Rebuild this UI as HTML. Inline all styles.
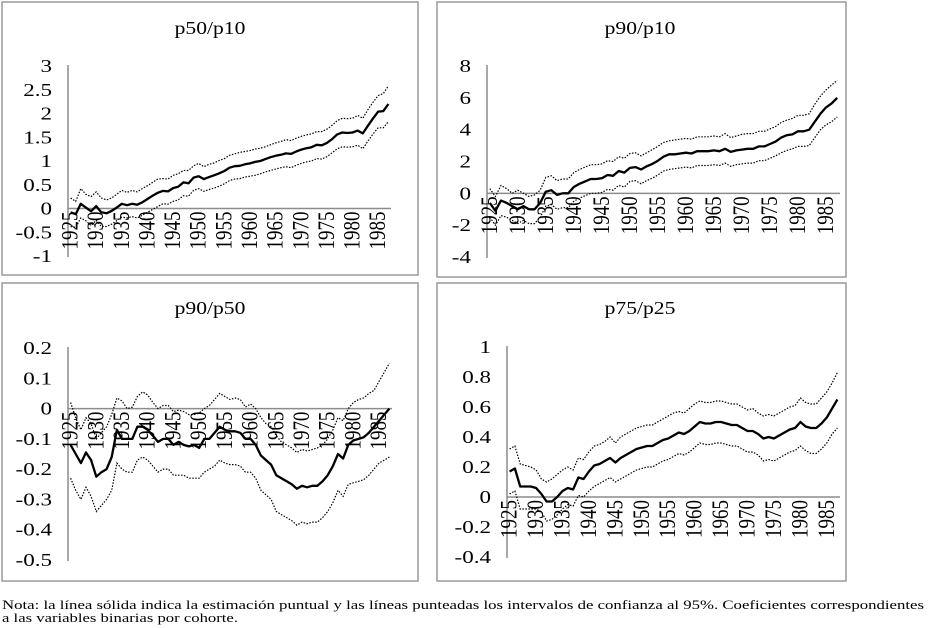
<!DOCTYPE html>
<html><head><meta charset="utf-8"><style>
body{margin:0;background:#fff;width:930px;height:628px;overflow:hidden;font-family:"Liberation Serif",serif}
svg{position:absolute;left:0;top:0}
</style></head><body>
<svg id="chart" width="930" height="628" viewBox="0 0 930 628" xmlns="http://www.w3.org/2000/svg" font-family="Liberation Serif, serif"></svg>
<script>
const years = [];
for (let y = 1925; y <= 1987; y++) years.push(y);
const tickYears = [1925,1930,1935,1940,1945,1950,1955,1960,1965,1970,1975,1980,1985];

const p5010Point = [-0.08,-0.12,0.1,0.02,-0.06,0.05,-0.08,-0.1,-0.05,0.02,0.1,0.07,0.1,0.08,0.13,0.2,0.27,0.33,0.37,0.36,0.43,0.46,0.55,0.53,0.65,0.68,0.62,0.66,0.7,0.74,0.79,0.86,0.89,0.9,0.93,0.95,0.98,1.0,1.04,1.08,1.11,1.13,1.16,1.15,1.2,1.24,1.27,1.29,1.34,1.33,1.38,1.46,1.56,1.6,1.59,1.6,1.64,1.58,1.74,1.9,2.04,2.05,2.2];
const p5010Upper = [0.22,0.15,0.42,0.3,0.25,0.35,0.22,0.18,0.22,0.3,0.38,0.34,0.38,0.35,0.42,0.48,0.55,0.62,0.63,0.62,0.7,0.73,0.8,0.8,0.9,0.95,0.88,0.93,0.96,1.01,1.05,1.12,1.15,1.18,1.2,1.22,1.25,1.27,1.3,1.34,1.38,1.41,1.45,1.43,1.48,1.52,1.55,1.57,1.62,1.62,1.67,1.75,1.85,1.9,1.89,1.9,1.96,1.9,2.08,2.24,2.38,2.42,2.58];
const p5010Lower = [-0.38,-0.4,-0.2,-0.26,-0.36,-0.25,-0.38,-0.38,-0.33,-0.26,-0.18,-0.2,-0.17,-0.2,-0.14,-0.08,-0.02,0.04,0.1,0.09,0.15,0.18,0.27,0.26,0.38,0.42,0.36,0.4,0.43,0.47,0.52,0.59,0.62,0.63,0.66,0.68,0.7,0.73,0.77,0.8,0.83,0.86,0.88,0.86,0.91,0.95,0.98,1.0,1.05,1.04,1.09,1.17,1.26,1.3,1.29,1.3,1.33,1.26,1.42,1.57,1.7,1.7,1.83];

const p9010Point = [-0.6,-1.1,-0.45,-0.6,-0.8,-1.0,-0.8,-1.0,-1.0,-0.6,0.1,0.2,-0.1,0.0,0.0,0.4,0.6,0.75,0.9,0.9,0.95,1.15,1.1,1.4,1.3,1.6,1.65,1.5,1.7,1.85,2.05,2.3,2.45,2.45,2.5,2.55,2.5,2.65,2.65,2.65,2.7,2.65,2.8,2.6,2.7,2.75,2.8,2.8,2.95,2.95,3.1,3.25,3.5,3.65,3.7,3.9,3.9,4.0,4.5,5.0,5.4,5.65,6.0];
const p9010Upper = [0.3,-0.2,0.5,0.3,0.0,0.2,0.0,-0.2,-0.1,0.2,1.0,1.1,0.8,0.9,0.9,1.3,1.5,1.65,1.8,1.8,1.85,2.05,2.0,2.3,2.2,2.5,2.55,2.35,2.55,2.75,2.95,3.2,3.3,3.35,3.4,3.45,3.4,3.55,3.55,3.55,3.6,3.55,3.75,3.5,3.6,3.7,3.75,3.75,3.9,3.9,4.05,4.2,4.45,4.6,4.7,4.9,4.9,5.0,5.6,6.1,6.5,6.8,7.1];
const p9010Lower = [-1.5,-2.0,-1.4,-1.5,-1.7,-1.9,-1.7,-1.9,-1.9,-1.5,-0.8,-0.7,-1.0,-0.9,-0.9,-0.5,-0.3,-0.15,0.0,0.0,0.05,0.25,0.2,0.5,0.4,0.75,0.8,0.6,0.8,0.95,1.15,1.4,1.5,1.55,1.6,1.65,1.6,1.75,1.75,1.75,1.8,1.75,1.9,1.7,1.8,1.85,1.9,1.9,2.05,2.05,2.2,2.35,2.55,2.7,2.8,2.95,2.95,3.0,3.5,4.0,4.3,4.5,4.8];

const p9050Point = [-0.12,-0.15,-0.18,-0.145,-0.17,-0.225,-0.21,-0.2,-0.16,-0.07,-0.1,-0.1,-0.1,-0.06,-0.06,-0.07,-0.09,-0.11,-0.1,-0.1,-0.12,-0.11,-0.12,-0.125,-0.12,-0.13,-0.1,-0.1,-0.08,-0.06,-0.07,-0.075,-0.075,-0.08,-0.1,-0.1,-0.12,-0.155,-0.17,-0.185,-0.22,-0.23,-0.24,-0.25,-0.265,-0.255,-0.26,-0.255,-0.255,-0.24,-0.22,-0.19,-0.15,-0.165,-0.12,-0.105,-0.1,-0.095,-0.08,-0.06,-0.04,-0.02,0.0];
const p9050Upper = [0.02,-0.03,-0.07,-0.03,-0.05,-0.1,-0.08,-0.06,-0.02,0.035,0.025,0.0,0.005,0.04,0.055,0.045,0.02,0.0,0.01,0.01,-0.01,-0.005,-0.01,-0.02,-0.02,-0.015,0.0,0.01,0.03,0.05,0.04,0.03,0.035,0.03,0.005,0.015,0.0,-0.03,-0.05,-0.06,-0.09,-0.11,-0.12,-0.13,-0.145,-0.135,-0.14,-0.135,-0.13,-0.12,-0.1,-0.07,-0.03,-0.04,0.0,0.02,0.03,0.035,0.05,0.06,0.09,0.12,0.15];
const p9050Lower = [-0.23,-0.27,-0.3,-0.26,-0.29,-0.34,-0.32,-0.3,-0.27,-0.18,-0.2,-0.21,-0.21,-0.17,-0.16,-0.17,-0.19,-0.21,-0.2,-0.2,-0.22,-0.22,-0.22,-0.23,-0.23,-0.23,-0.21,-0.2,-0.19,-0.17,-0.18,-0.185,-0.185,-0.19,-0.21,-0.21,-0.23,-0.27,-0.285,-0.3,-0.34,-0.35,-0.36,-0.37,-0.385,-0.375,-0.38,-0.375,-0.375,-0.36,-0.34,-0.31,-0.27,-0.29,-0.25,-0.245,-0.24,-0.235,-0.22,-0.2,-0.18,-0.17,-0.16];

const p7525Point = [0.17,0.19,0.07,0.07,0.07,0.06,0.02,-0.03,-0.03,0.0,0.04,0.06,0.05,0.13,0.12,0.17,0.21,0.22,0.24,0.26,0.23,0.26,0.28,0.3,0.32,0.33,0.34,0.34,0.36,0.38,0.39,0.41,0.43,0.42,0.44,0.47,0.5,0.49,0.49,0.5,0.5,0.49,0.48,0.48,0.46,0.44,0.44,0.42,0.39,0.4,0.39,0.41,0.43,0.45,0.46,0.5,0.47,0.46,0.46,0.49,0.53,0.59,0.65];
const p7525Upper = [0.32,0.34,0.22,0.21,0.2,0.18,0.12,0.1,0.12,0.15,0.18,0.2,0.18,0.26,0.25,0.3,0.34,0.35,0.37,0.4,0.36,0.4,0.42,0.44,0.46,0.47,0.48,0.48,0.5,0.52,0.54,0.56,0.57,0.56,0.59,0.62,0.64,0.63,0.63,0.64,0.64,0.63,0.62,0.62,0.6,0.58,0.59,0.56,0.54,0.55,0.54,0.56,0.58,0.6,0.61,0.66,0.63,0.62,0.62,0.66,0.7,0.76,0.83];
const p7525Lower = [0.02,0.04,-0.08,-0.08,-0.08,-0.08,-0.1,-0.16,-0.15,-0.12,-0.08,-0.05,-0.06,0.01,0.0,0.04,0.07,0.09,0.11,0.13,0.1,0.12,0.14,0.16,0.18,0.19,0.2,0.2,0.22,0.24,0.25,0.27,0.29,0.28,0.3,0.33,0.36,0.35,0.35,0.36,0.36,0.35,0.34,0.34,0.32,0.3,0.3,0.28,0.24,0.25,0.24,0.26,0.28,0.3,0.31,0.34,0.31,0.29,0.29,0.32,0.36,0.42,0.46];

const p5010Ticks = [3,2.5,2,1.5,1,0.5,0,-0.5,-1];
const p9010Ticks = [8,6,4,2,0,-2,-4];
const p9050Ticks = [0.2,0.1,0,-0.1,-0.2,-0.3,-0.4,-0.5];
const p7525Ticks = [1,0.8,0.6,0.4,0.2,0,-0.2,-0.4];

const NS = 'http://www.w3.org/2000/svg';
const svg = document.getElementById('chart');
function mk(tag, attrs, parent) {
  const e = document.createElementNS(NS, tag);
  for (const k in attrs) e.setAttribute(k, attrs[k]);
  (parent || svg).appendChild(e);
  return e;
}

function panel(key, title, box, g, ticks, point, upper, lower) {
  const grp = mk('g', {});
  
  
  const fr = mk('rect', {x: box[0], y: box[1], width: box[2], height: box[3], fill: 'none', stroke: '#9a9a9a', 'stroke-width': 1.5}, grp);
  
  
  const t = mk('text', {x: 0, y: 0, 'font-size': 18, 'text-anchor': 'middle', transform: 'translate(' + g.tx + ' ' + g.ty + ') scale(1.2 1)'}, grp);
  t.textContent = title;
  
  
  const vmax = ticks[0], vmin = ticks[ticks.length - 1];
  const yS = v => g.yTop + (vmax - v) / (vmax - vmin) * (g.yBot - g.yTop);
  const n = years.length;
  const xS = i => g.x0 + (i + 0.5) * (g.x1 - g.x0) / n;
  ticks.forEach(v => {
    const tl = mk('text', {x: 0, y: 0, 'font-size': 18, 'text-anchor': 'end', transform: 'translate(' + (g.x0 - 16) + ' ' + (yS(v) + 6) + ') scale(1.28 1)'}, grp);
    tl.textContent = String(v);
    
    
  });
  const ya = mk('line', {x1: g.x0, x2: g.x0, y1: yS(vmax) - 1, y2: yS(vmin) + 1, stroke: '#8c8c8c', 'stroke-width': 1.5}, grp);
  
  
  const xa = mk('line', {x1: g.x0, x2: g.x1, y1: yS(0), y2: yS(0), stroke: '#8c8c8c', 'stroke-width': 1.5}, grp);
  
  
  tickYears.forEach(yr => {
    const i = years.indexOf(yr);
    const xx = xS(i) + 7, yy = yS(0) + 3;
    const tl = mk('text', {x: 0, y: 0, 'font-size': 19, 'text-anchor': 'end', transform: 'translate(' + xx + ' ' + yy + ') scale(1.2 1) rotate(-90)'}, grp);
    tl.textContent = String(yr);
    
    
  });
  const path = arr => arr.map((v, i) => (i ? 'L' : 'M') + xS(i).toFixed(1) + ' ' + yS(v).toFixed(1)).join(' ');
  const up = mk('path', {d: path(upper), fill: 'none', stroke: '#000', 'stroke-width': 1.2, 'stroke-dasharray': '1.5 1.5'}, grp);
  
  
  const lo = mk('path', {d: path(lower), fill: 'none', stroke: '#000', 'stroke-width': 1.2, 'stroke-dasharray': '1.5 1.5'}, grp);
  
  
  const pt = mk('path', {d: path(point), fill: 'none', stroke: '#000', 'stroke-width': 2.3, 'stroke-linejoin': 'round'}, grp);
  
  
}

panel('p50-p10', 'p50/p10', [2, 2, 416, 273], {x0: 68, x1: 391, yTop: 66, yBot: 256, tx: 210, ty: 34}, p5010Ticks, p5010Point, p5010Upper, p5010Lower);
panel('p90-p10', 'p90/p10', [437, 2, 409, 275], {x0: 487, x1: 840, yTop: 66, yBot: 257, tx: 640, ty: 34}, p9010Ticks, p9010Point, p9010Upper, p9010Lower);
panel('p90-p50', 'p90/p50', [2, 283, 416, 298], {x0: 68, x1: 392, yTop: 348, yBot: 560, tx: 210, ty: 314}, p9050Ticks, p9050Point, p9050Upper, p9050Lower);
panel('p75-p25', 'p75/p25', [437, 283, 409, 298], {x0: 507, x1: 840, yTop: 347, yBot: 557, tx: 640, ty: 314}, p7525Ticks, p7525Point, p7525Upper, p7525Lower);

const n1 = mk('text', {x: 2, y: 609, 'font-size': 13, textLength: 922, lengthAdjust: 'spacingAndGlyphs'});
n1.textContent = 'Nota: la línea sólida indica la estimación puntual y las líneas punteadas los intervalos de confianza al 95%. Coeficientes correspondientes';


const n2 = mk('text', {x: 2, y: 622, 'font-size': 13, textLength: 236, lengthAdjust: 'spacingAndGlyphs'});
n2.textContent = 'a las variables binarias por cohorte.';


</script>
</body></html>
